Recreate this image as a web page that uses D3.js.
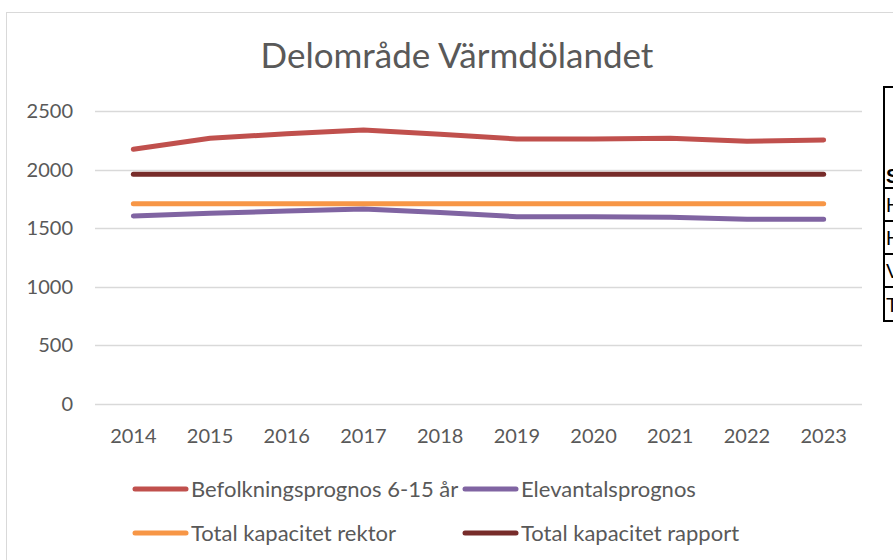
<!DOCTYPE html>
<html>
<head>
<meta charset="utf-8">
<script src="https://cdnjs.cloudflare.com/ajax/libs/d3/7.8.5/d3.min.js"></script>
<style>
  body { margin: 0; background: #fff; }
  svg { display: block; font-family: Lato, "Open Sans", sans-serif; }
</style>
</head>
<body>
<svg id="chart" width="893" height="560"></svg>
<script>
// data
const years = ["2014", "2015", "2016", "2017", "2018", "2019", "2020", "2021", "2022", "2023"];
const befolkning = [2173, 2267, 2306, 2338, 2301, 2261, 2262, 2267, 2241, 2252];
const elevantal = [1604, 1627, 1647, 1664, 1634, 1598, 1597, 1594, 1576, 1576];
const kapRektor = [1709, 1709, 1709, 1709, 1709, 1709, 1709, 1709, 1709, 1709];
const kapRapport = [1960, 1960, 1960, 1960, 1960, 1960, 1960, 1960, 1960, 1960];
const yTicks = [0, 500, 1000, 1500, 2000, 2500];
const seriesNames = ["Befolkningsprognos 6-15 år", "Elevantalsprognos", "Total kapacitet rektor", "Total kapacitet rapport"];
const tableRows = ["S", "H", "H", "V", "T"];

const colors = ["#C0504D", "#8064A2", "#F79646", "#772C2A"];
const allSeries = [befolkning, elevantal, kapRektor, kapRapport];

const svg = d3.select("#chart");
const textColor = "#595959";

// chart frame
svg.append("rect")
    .attr("x", 6.5).attr("y", 12.5)
    .attr("width", 1000).attr("height", 600)
    .attr("fill", "#fff")
    .attr("stroke", "#d9d9d9");

const x = d3.scaleBand().domain(years).range([95, 862]);
const y = d3.scaleLinear().domain([0, 2500]).range([404, 111]);

// title
svg.append("text")
    .attr("x", 457).attr("y", 68)
    .attr("text-anchor", "middle")
    .attr("font-size", 35)
    .attr("fill", textColor)
    .text("Delområde Värmdölandet");

// gridlines
svg.append("g").selectAll("line")
    .data(yTicks)
    .join("line")
    .attr("x1", 95).attr("x2", 862)
    .attr("y1", d => Math.round(y(d)) + 0.5)
    .attr("y2", d => Math.round(y(d)) + 0.5)
    .attr("stroke", "#d9d9d9")
    .attr("stroke-width", 1.5);

// y axis labels
const yAxis = svg.append("g")
    .attr("transform", "translate(73,0)")
    .call(d3.axisLeft(y).tickValues(yTicks).tickFormat(d3.format("d")).tickSize(0).tickPadding(0));
yAxis.select(".domain").remove();
yAxis.selectAll("text")
    .attr("font-size", 20)
    .attr("font-family", "Lato")
    .attr("fill", textColor);

// x axis labels
const xAxis = svg.append("g")
    .attr("transform", "translate(0,429)")
    .call(d3.axisBottom(x).tickSize(0).tickPadding(0));
xAxis.select(".domain").remove();
xAxis.selectAll("text")
    .attr("font-size", 20)
    .attr("font-family", "Lato")
    .attr("fill", textColor);

// lines
const line = d3.line()
    .x((d, i) => x(years[i]) + x.bandwidth() / 2)
    .y(d => y(d));

svg.append("g").selectAll("path")
    .data(allSeries)
    .join("path")
    .attr("d", line)
    .attr("fill", "none")
    .attr("stroke", (d, i) => colors[i])
    .attr("stroke-width", 5)
    .attr("stroke-linecap", "round")
    .attr("stroke-linejoin", "round");

// legend
const legendPos = [[133, 489], [463, 489], [133, 533], [463, 533]];
const leg = svg.append("g").selectAll("g")
    .data(seriesNames)
    .join("g")
    .attr("transform", (d, i) => `translate(${legendPos[i][0]},${legendPos[i][1]})`);
leg.append("line")
    .attr("x1", 2).attr("x2", 53)
    .attr("stroke", (d, i) => colors[i])
    .attr("stroke-width", 5)
    .attr("stroke-linecap", "round");
leg.append("text")
    .attr("x", 58).attr("dy", "0.36em")
    .attr("font-size", 22)
    .attr("fill", textColor)
    .text(d => d);

// table that overlaps the chart on the right (cut off by the picture edge)
const tbl = svg.append("g");
tbl.append("rect")
    .attr("x", 884).attr("y", 87)
    .attr("width", 40).attr("height", 234)
    .attr("fill", "#fff")
    .attr("stroke", "#000")
    .attr("stroke-width", 2);
const rowLines = [188, 221, 254, 287];
tbl.selectAll(".rl").data(rowLines).join("line")
    .attr("x1", 884).attr("x2", 900)
    .attr("y1", d => d).attr("y2", d => d)
    .attr("stroke", "#000").attr("stroke-width", 2);
const rowText = [176, 205, 238, 271, 305];
tbl.selectAll("text").data(tableRows).join("text")
    .attr("x", 886)
    .attr("y", (d, i) => rowText[i])
    .attr("dy", "0.36em")
    .attr("font-family", "Liberation Sans, Arial, sans-serif")
    .attr("font-size", 20)
    .attr("font-weight", (d, i) => i === 0 ? "bold" : "normal")
    .attr("fill", "#000")
    .text(d => d);
</script>
</body>
</html>
